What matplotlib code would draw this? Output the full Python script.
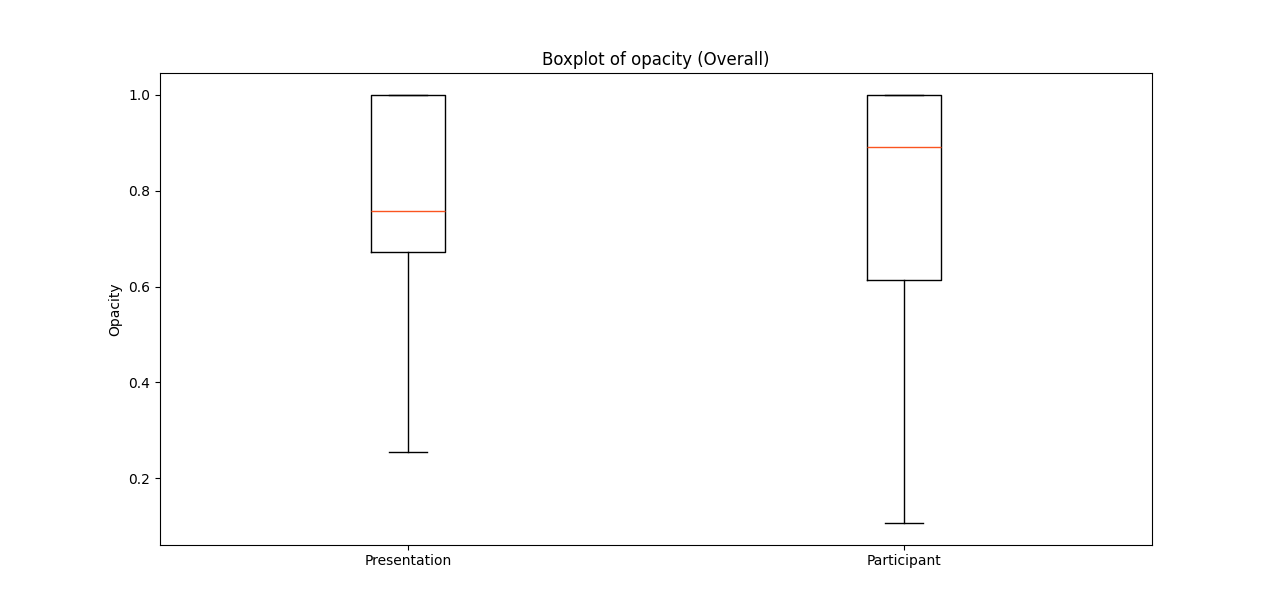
import matplotlib
matplotlib.use("Agg")
import matplotlib.pyplot as plt

categories = ["Presentation", "Participant"]
whisker_low = [0.254, 0.106]
q1 = [0.672, 0.614]
median = [0.758, 0.891]
q3 = [1.0, 1.0]
whisker_high = [1.0, 1.0]

stats = []
for i, name in enumerate(categories):
    stats.append(dict(label=name, whislo=whisker_low[i], q1=q1[i], med=median[i],
                      q3=q3[i], whishi=whisker_high[i], fliers=[]))

fig, ax = plt.subplots(figsize=(12.8, 6.12), dpi=100)
ax.bxp(stats, showfliers=False, medianprops=dict(color="#fa5420"))
ax.set_title("Boxplot of opacity (Overall)")
ax.set_ylabel("Opacity")
fig.savefig("out.png", dpi=100)
